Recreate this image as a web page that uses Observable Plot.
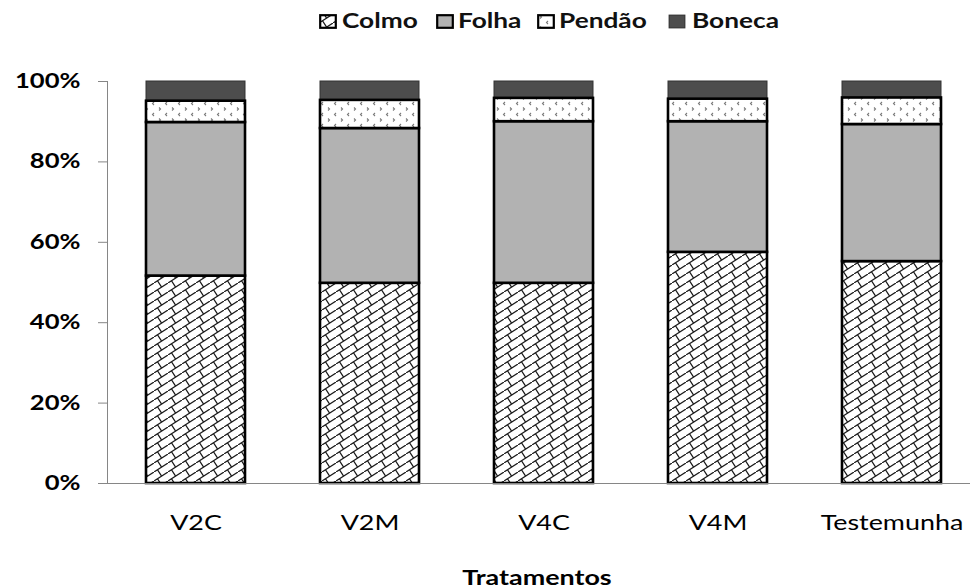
<!DOCTYPE html>
<html><head><meta charset="utf-8">
<script src="https://cdn.jsdelivr.net/npm/d3@7"></script>
<script src="https://cdn.jsdelivr.net/npm/@observablehq/plot@0.6"></script>
<style>
body{margin:0;background:#fff;font-family:Lato,"Open Sans",sans-serif;color:#000;}
#wrap{position:relative;width:973px;height:588px;overflow:hidden;background:#fff;}
#chart{position:absolute;left:0;top:40px;}
.lg{position:absolute;top:0;height:40px;}
.sw{position:absolute;top:14px;}
.lt{position:absolute;top:8px;font-size:21px;font-weight:bold;line-height:24px;white-space:nowrap;transform:scaleX(1.25);transform-origin:0 50%;color:#111;}
#xlabel{position:absolute;left:537px;top:565px;font-size:21px;font-weight:bold;line-height:24px;white-space:nowrap;transform:translateX(-50%) scaleX(1.28);}
g[aria-label="y-axis tick"]{stroke:#868686;}
</style></head>
<body><div id="wrap"><div id="legend"></div><div id="chart"></div><div id="xlabel">Tratamentos</div></div>
<script>
const tratamentos = ["V2C", "V2M", "V4C", "V4M", "Testemunha"];
const partes = ["Colmo", "Folha", "Pendão", "Boneca"];
const colmo  = [51.6, 49.8, 49.8, 57.5, 55.2];
const folha  = [38.2, 38.5, 40.2, 32.5, 34.1];
const pendao = [5.3, 7.0, 5.8, 5.6, 6.6];
const boneca = [4.9, 4.7, 4.2, 4.4, 4.1];
const yTicks = [0, 20, 40, 60, 80, 100];

const series = {"Colmo": colmo, "Folha": folha, "Pendão": pendao, "Boneca": boneca};
const fills = {"Colmo": "url(#pColmo)", "Folha": "#b2b2b2", "Pendão": "url(#pPendao)", "Boneca": "#4d4d4d"};

const rows = [];
tratamentos.forEach((t, i) => {
  let cum = 0;
  partes.forEach(p => {
    const v = series[p][i];
    rows.push({trat: t, parte: p, y1: cum, y2: cum + v});
    cum += v;
  });
});

const segMark = (p, stroke, sw) => Plot.barY(rows.filter(r => r.parte === p), {
  x: "trat", y1: "y1", y2: "y2", fill: fills[p], stroke, strokeWidth: sw
});

const chart = Plot.plot({
  width: 973, height: 515,
  marginTop: 41, marginBottom: 72, marginLeft: 107, marginRight: 3,
  style: {fontFamily: "Lato, 'Open Sans', sans-serif", color: "#000", background: "#fff", overflow: "visible"},
  x: {domain: tratamentos, paddingInner: 0.43, paddingOuter: 0.1877, align: 0.58, label: null},
  y: {domain: [0, 100], label: null},
  marks: [
    segMark("Boneca", "#333", 1),
    segMark("Colmo", "#000", 2.6),
    segMark("Folha", "#000", 2.6),
    segMark("Pendão", "#000", 2.6),
    Plot.ruleY([0], {stroke: "#868686"}),
    Plot.frame({anchor: "left", stroke: "#868686"}),
    Plot.axisY(yTicks, {tickFormat: d => d + "%", tickSize: 9, tickPadding: 18, fontSize: 20, fontWeight: "bold", label: null}),
    Plot.axisX({tickSize: 0, tickPadding: 32, fontSize: 21, label: null})
  ]
});

// patterns
const svg = d3.select(chart);
const defs = svg.insert("defs", ":first-child");
const pc = defs.append("pattern").attr("id", "pColmo").attr("patternUnits", "userSpaceOnUse").attr("width", 14).attr("height", 9);
pc.append("rect").attr("width", 14).attr("height", 9).attr("fill", "#fff");
pc.append("path").attr("d", "M-1.4,9.9 L15.4,-0.9 M3.5,6.75 L7.6,13.12 M3.5,-2.25 L7.6,4.12")
  .attr("stroke", "#1a1a1a").attr("stroke-width", 1.25).attr("fill", "none");
const pp = defs.append("pattern").attr("id", "pPendao").attr("patternUnits", "userSpaceOnUse").attr("width", 13).attr("height", 11);
pp.append("rect").attr("width", 13).attr("height", 11).attr("fill", "#fff");
pp.append("path").attr("d", "M3,1.5 L4.5,3 L3,4.5 M11,7 L9.5,8.5 L11,10")
  .attr("stroke", "#7a7a7a").attr("stroke-width", 1.1).attr("fill", "none");

document.getElementById("chart").appendChild(chart);

// horizontal stretch of texts to match reference proportions
function stretch(nodes, s) {
  nodes.forEach(t => {
    const b = t.getBBox();
    const a = getComputedStyle(t).textAnchor;
    const ax = a === "end" ? b.x + b.width : a === "middle" ? b.x + b.width / 2 : b.x;
    const old = t.getAttribute("transform") || "";
    t.setAttribute("transform", `${old} translate(${ax},0) scale(${s},1) translate(${-ax},0)`);
  });
}
stretch(chart.querySelectorAll('g[aria-label="y-axis tick label"] text'), 1.28);
stretch(chart.querySelectorAll('g[aria-label="x-axis tick label"] text'), 1.28);

// legend
const legendPos = [
  {p: "Colmo", sw: 319, tx: 342},
  {p: "Folha", sw: 436, tx: 458},
  {p: "Pendão", sw: 537, tx: 559},
  {p: "Boneca", sw: 668, tx: 692}
];
const lg = document.getElementById("legend");
legendPos.forEach(({p, sw, tx}) => {
  const s = document.createElementNS("http://www.w3.org/2000/svg", "svg");
  s.setAttribute("width", 19); s.setAttribute("height", 16);
  s.setAttribute("class", "sw");
  s.style.left = sw + "px";
  const r = document.createElementNS("http://www.w3.org/2000/svg", "rect");
  r.setAttribute("x", 1.2); r.setAttribute("y", 1.2); r.setAttribute("width", 15.6); r.setAttribute("height", 12.6);
  r.setAttribute("fill", fills[p]);
  r.setAttribute("stroke", p === "Boneca" ? "#333" : "#000");
  r.setAttribute("stroke-width", p === "Boneca" ? 1.2 : 2.2);
  s.appendChild(r);
  lg.appendChild(s);
  const t = document.createElement("span");
  t.className = "lt"; t.textContent = p; t.style.left = tx + "px";
  lg.appendChild(t);
});
</script>
</body></html>
